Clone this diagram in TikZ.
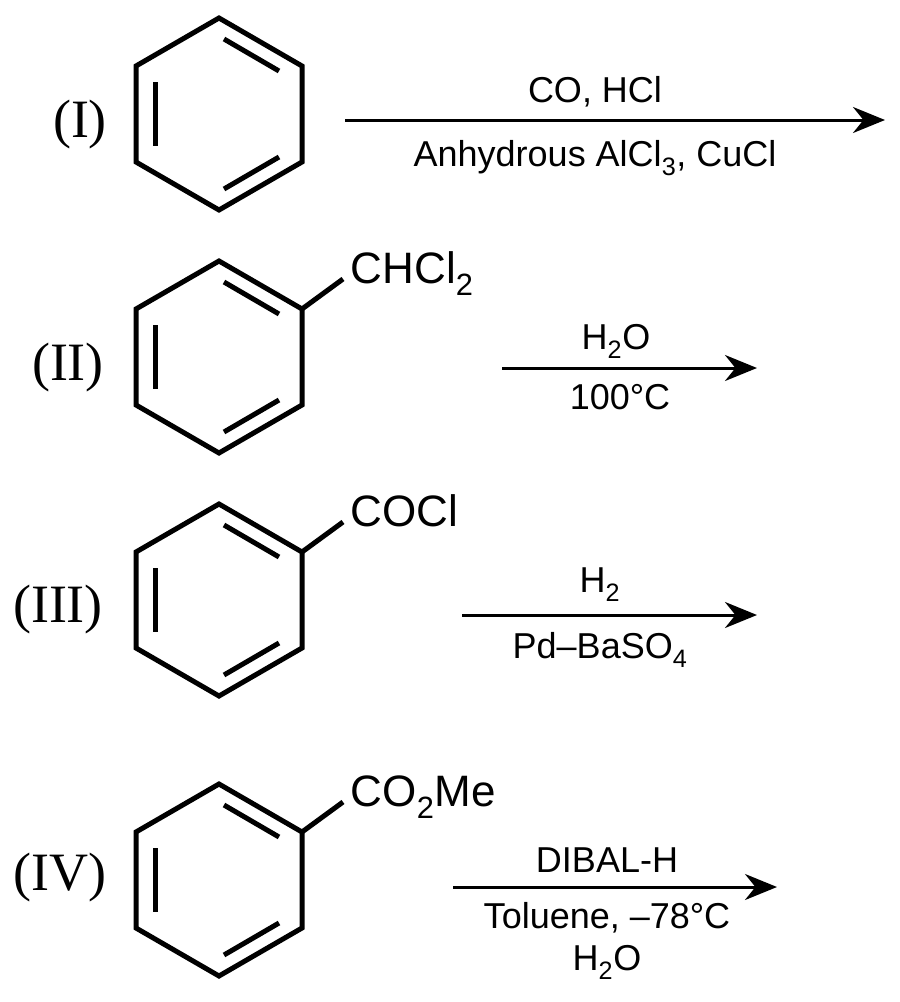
\documentclass[tikz,border=0pt]{standalone}
\usetikzlibrary{arrows.meta}
\usepackage{fontspec}
\setmainfont{Liberation Sans}
\newfontfamily\rmf{Liberation Serif}
\begin{document}
\begin{tikzpicture}[x=1pt,y=-1pt,line width=5pt,
  ring/.pic={
    \draw[line join=miter] (0,-96) -- (83,-48) -- (83,48) -- (0,96) -- (-83,48) -- (-83,-48) -- cycle;
    \draw (5,-75) -- (60,-43);
    \draw (-64,-32) -- (-64,32);
    \draw (5,75) -- (60,43);
  },
  rn/.style={font=\rmf\fontsize{54}{58}\selectfont,anchor=center},
  lab/.style={font=\fontsize{36}{40}\selectfont,anchor=center},
  sub/.style={font=\fontsize{44}{48}\selectfont,anchor=base west},
  arr/.style={line width=3pt,-{Stealth[length=32pt,width=26pt]}}]
\useasboundingbox (0,0) rectangle (900,1002);
\pic at (219,114) {ring};
\pic at (219,357) {ring};
\pic at (219,600) {ring};
\pic at (219,880) {ring};
\node[rn] (r1) at (80,125) {(I)};
\node[rn] (r2) at (68,368) {(II)};
\node[rn] (r3) at (58,610) {(III)};
\node[rn] (r4) at (60,878) {(IV)};
% substituents
\coordinate (a2) at (302,309); \coordinate (b2) at (343,279);
\draw (a2) -- (b2);
\node[sub] (s2) at (345,283) {CHCl\textsubscript{2}};
\coordinate (a3) at (302,552); \coordinate (b3) at (343,522);
\draw (a3) -- (b3);
\node[sub] (s3) at (345,526) {COCl};
\coordinate (a4) at (302,832); \coordinate (b4) at (343,802);
\draw (a4) -- (b4);
\node[sub] (s4) at (345,806) {CO\textsubscript{2}Me};
% arrows
\coordinate (p1) at (345,120); \coordinate (q1) at (885,120);
\draw[arr] (p1) -- (q1);
\node[lab] (t1) at (595,92) {CO, HCl};
\node[lab] (u1) at (595,158) {Anhydrous AlCl\textsubscript{3}, CuCl};
\coordinate (p2) at (502,368); \coordinate (q2) at (757,368);
\draw[arr] (p2) -- (q2);
\node[lab] (t2) at (616,341) {H\textsubscript{2}O};
\node[lab] (u2) at (620,397) {100°C};
\coordinate (p3) at (462,615); \coordinate (q3) at (757,615);
\draw[arr] (p3) -- (q3);
\node[lab] (t3) at (600,585) {H\textsubscript{2}};
\node[lab] (u3) at (600,650) {Pd–BaSO\textsubscript{4}};
\coordinate (p4) at (453,887); \coordinate (q4) at (777,887);
\draw[arr] (p4) -- (q4);
\node[lab] (t4) at (607,860) {DIBAL-H};
\node[lab] (u4) at (607,918) {Toluene, –78°C};
\node[lab] (v4) at (607,962) {H\textsubscript{2}O};
\end{tikzpicture}
\end{document}
